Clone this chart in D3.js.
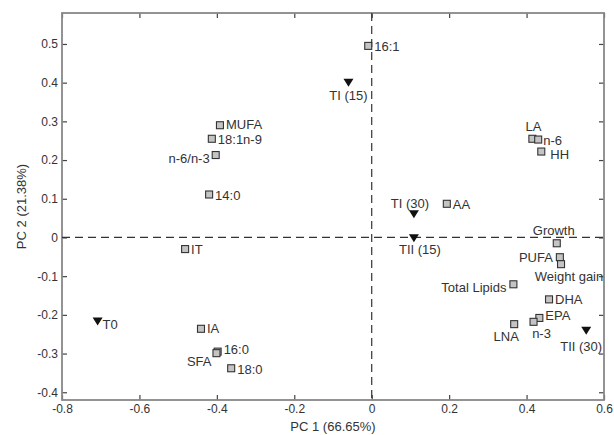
<!DOCTYPE html>
<html>
<head>
<meta charset="utf-8">
<script src="https://cdn.jsdelivr.net/npm/d3@7"></script>
<style>
  body { margin: 0; background: #fff; }
  svg text { font-family: "Liberation Sans", Arial, sans-serif; }
</style>
</head>
<body>
<svg id="pca" width="614" height="435"></svg>
<script>
// loadings (squares)
var varNames = ["MUFA", "18:1n-9", "n-6/n-3", "14:0", "16:1", "IT", "IA", "16:0", "SFA", "18:0",
                "LA", "n-6", "HH", "AA", "Growth", "PUFA", "Weight gain", "Total Lipids", "DHA", "EPA", "n-3", "LNA"];
var varPC1 = [-0.392, -0.413, -0.403, -0.420, -0.009, -0.482, -0.441, -0.398, -0.401, -0.363,
              0.415, 0.430, 0.438, 0.194, 0.478, 0.486, 0.489, 0.366, 0.458, 0.433, 0.418, 0.368];
var varPC2 = [0.290, 0.255, 0.213, 0.111, 0.495, -0.030, -0.236, -0.295, -0.299, -0.338,
              0.255, 0.253, 0.222, 0.087, -0.015, -0.051, -0.069, -0.121, -0.160, -0.208, -0.218, -0.224];

// scores (triangles)
var sampleNames = ["TI (15)", "TI (30)", "TII (15)", "TII (30)", "T0"];
var samplePC1 = [-0.060, 0.109, 0.109, 0.554, -0.708];
var samplePC2 = [0.400, 0.060, -0.002, -0.241, -0.217];

var xTicks = [-0.8, -0.6, -0.4, -0.2, 0, 0.2, 0.4, 0.6];
var yTicks = [-0.4, -0.3, -0.2, -0.1, 0, 0.1, 0.2, 0.3, 0.4, 0.5];

// label placement [dx, dy, anchor]
var labelPos = {
  "MUFA": [6, 4, "start"], "18:1n-9": [6, 5, "start"], "n-6/n-3": [-6, 8, "end"], "14:0": [6, 5, "start"],
  "16:1": [6, 5, "start"], "IT": [6, 5, "start"], "IA": [6, 4, "start"], "16:0": [6, 2, "start"],
  "SFA": [-5, 13, "end"], "18:0": [6, 6, "start"], "LA": [1, -8, "middle"], "n-6": [5, 5, "start"],
  "HH": [9, 7, "start"], "AA": [6, 5, "start"], "Growth": [-3, -8, "middle"], "PUFA": [-7, 5, "end"],
  "Weight gain": [8, 17, "middle"], "Total Lipids": [-7, 8, "end"], "DHA": [6, 5, "start"],
  "EPA": [6, 2, "start"], "n-3": [8, 16, "middle"], "LNA": [-8, 17, "middle"],
  "TI (15)": [0, 17, "middle"], "TI (30)": [-4, -6, "middle"], "TII (15)": [6, 16, "middle"],
  "TII (30)": [-5, 20, "middle"], "T0": [5, 8, "start"]
};

var svg = d3.select("#pca"),
    margin = {left: 62, right: 10, top: 13, bottom: 35},
    W = +svg.attr("width"), H = +svg.attr("height");

var x = d3.scaleLinear().domain([-0.8, 0.6]).range([margin.left, W - margin.right]);
var y = d3.scaleLinear().domain([-0.42, 0.58]).range([H - margin.bottom, margin.top]);

var fmt = function(d) { return d === 0 ? "0" : String(d); };

// axes with inward ticks
svg.append("g").attr("transform", "translate(0," + y.range()[0] + ")")
  .call(d3.axisBottom(x).tickValues(xTicks).tickSizeInner(-5).tickSizeOuter(0).tickPadding(4).tickFormat(fmt));
svg.append("g").attr("transform", "translate(0," + y.range()[1] + ")")
  .call(d3.axisTop(x).tickValues(xTicks).tickSizeInner(-5).tickSizeOuter(0).tickFormat(""));
svg.append("g").attr("transform", "translate(" + x.range()[0] + ",0)")
  .call(d3.axisLeft(y).tickValues(yTicks).tickSizeInner(-5).tickSizeOuter(0).tickPadding(4).tickFormat(fmt));
svg.append("g").attr("transform", "translate(" + x.range()[1] + ",0)")
  .call(d3.axisRight(y).tickValues(yTicks).tickSizeInner(-5).tickSizeOuter(0).tickFormat(""));

svg.selectAll(".domain").remove();
svg.selectAll(".tick line").attr("stroke", "#444").attr("stroke-width", 1.2);
svg.selectAll(".tick text").attr("fill", "#333").style("font-size", "12px");

svg.append("rect")
  .attr("x", x.range()[0]).attr("y", y.range()[1])
  .attr("width", x.range()[1] - x.range()[0]).attr("height", y.range()[0] - y.range()[1])
  .attr("fill", "none").attr("stroke", "#888").attr("stroke-width", 1.8);

// zero lines
svg.append("line")
  .attr("x1", x(0)).attr("x2", x(0)).attr("y1", y.range()[1]).attr("y2", y.range()[0])
  .attr("stroke", "#333").attr("stroke-width", 1.2).attr("stroke-dasharray", "8,5");
svg.append("line")
  .attr("x1", x.range()[0]).attr("x2", x.range()[1]).attr("y1", y(0)).attr("y2", y(0))
  .attr("stroke", "#333").attr("stroke-width", 1.2).attr("stroke-dasharray", "8,5");

// axis titles
svg.append("text")
  .attr("x", (x.range()[0] + x.range()[1]) / 2).attr("y", H - 4)
  .attr("text-anchor", "middle").attr("fill", "#333").style("font-size", "13px")
  .text("PC 1 (66.65%)");
svg.append("text")
  .attr("transform", "translate(26," + (y.range()[0] + y.range()[1]) / 2 + ") rotate(-90)")
  .attr("text-anchor", "middle").attr("fill", "#333").style("font-size", "13px")
  .text("PC 2 (21.38%)");

var vars = varNames.map(function(n, i) { return {name: n, px: varPC1[i], py: varPC2[i]}; });
var samples = sampleNames.map(function(n, i) { return {name: n, px: samplePC1[i], py: samplePC2[i]}; });

svg.append("g").selectAll("rect")
  .data(vars).enter().append("rect")
  .attr("x", function(d) { return x(d.px) - 3.5; })
  .attr("y", function(d) { return y(d.py) - 3.5; })
  .attr("width", 7).attr("height", 7)
  .attr("fill", "#c4c4c4").attr("stroke", "#333").attr("stroke-width", 1.1);

svg.append("g").selectAll("path")
  .data(samples).enter().append("path")
  .attr("transform", function(d) { return "translate(" + x(d.px) + "," + y(d.py) + ")"; })
  .attr("d", "M-5,-4L5,-4L0,4Z")
  .attr("fill", "#111");

svg.append("g").selectAll("text")
  .data(vars.concat(samples)).enter().append("text")
  .attr("x", function(d) { return x(d.px) + labelPos[d.name][0]; })
  .attr("y", function(d) { return y(d.py) + labelPos[d.name][1]; })
  .attr("text-anchor", function(d) { return labelPos[d.name][2]; })
  .attr("fill", "#333").style("font-size", "13px")
  .text(function(d) { return d.name; });
</script>
</body>
</html>
